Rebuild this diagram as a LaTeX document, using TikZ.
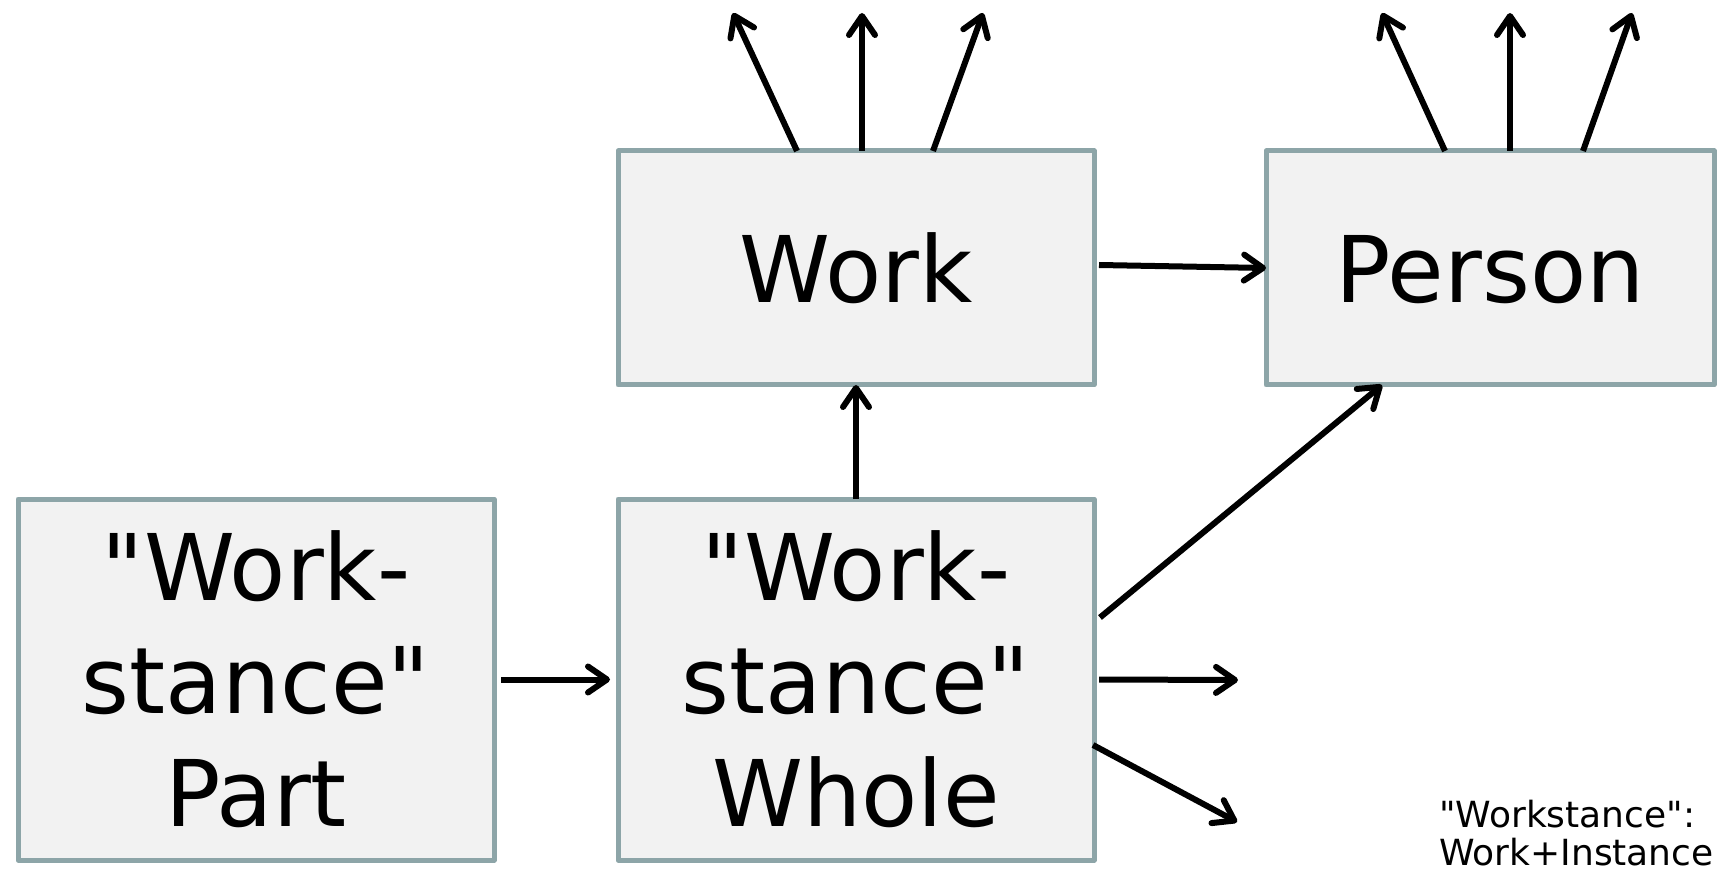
\documentclass[tikz,border=0pt]{standalone}
\usepackage{fontspec}
\setmainfont{DejaVu Sans}[Ligatures=TeXOff]
\usetikzlibrary{arrows.meta,calc}
\definecolor{boxborder}{HTML}{8DA5A8}
\definecolor{boxfill}{HTML}{F2F2F2}
\newcommand{\qq}{\symbol{34}}
\tikzset{
  box/.style={draw=boxborder, fill=boxfill, line width=5pt, line join=round, outer sep=0pt, inner sep=0pt,
    align=center, font=\fontsize{92}{113}\selectfont},
  conn/.style={line width=6pt, -{Straight Barb[length=19pt,width=26pt,round]}},
}
\begin{document}
\begin{tikzpicture}[x=1pt,y=-1pt]
\useasboundingbox (0,0) rectangle (1717,874);
\node[box, minimum width=476pt, minimum height=361pt] (part) at (256,679.5) {\qq Work-\\stance\qq\\Part};
\node[box, minimum width=476pt, minimum height=361pt] (whole) at (856,679.5) {\qq Work-\\stance\qq\\Whole};
\node[box, minimum width=476pt, minimum height=234pt, text height=70pt, text depth=0pt] (work) at (856,268) {Work};
\node[box, minimum width=448pt, minimum height=234pt, text height=70pt, text depth=0pt] (person) at (1490,268) {Person};
\node[anchor=base west, align=left, inner sep=0pt, font=\fontsize{36}{38}\selectfont] (note) at (1439,865) {\qq Workstance\qq:\\Work+Instance};
% free ends
\coordinate (wa1) at (733,13);
\coordinate (wa2) at (862,13);
\coordinate (wa3) at (983,13);
\coordinate (pa1) at (1382,13);
\coordinate (pa2) at (1510,13);
\coordinate (pa3) at (1632,13);
\coordinate (wr) at (1238,680);
\coordinate (wd) at (1237,822);
% connectors
\draw[conn] ($(work.north west)+(179,0)$) -- (wa1);
\draw[conn] ($(work.north west)+(244,0)$) -- (wa2);
\draw[conn] ($(work.north west)+(315,0)$) -- (wa3);
\draw[conn] ($(person.north west)+(179,0)$) -- (pa1);
\draw[conn] ($(person.north west)+(244,0)$) -- (pa2);
\draw[conn] ($(person.north west)+(317,0)$) -- (pa3);
\draw[conn] ($(work.east)+(5,-3)$) -- (person.west);
\draw[conn] (whole.north) -- (work.south);
\draw[conn] ($(part.east)+(7,0)$) -- ($(whole.west)+(-8,0)$);
\draw[conn] ($(whole.east)+(6,-62)$) -- ($(person.south west)+(116,0)$);
\draw[conn] ($(whole.east)+(5,0)$) -- (wr);
\draw[conn] ($(whole.east)+(-1,65.5)$) -- (wd);
\end{tikzpicture}
\end{document}
